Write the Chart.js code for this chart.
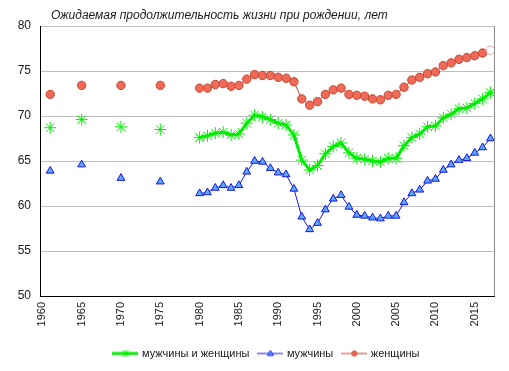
<!DOCTYPE html>
<html>
<head>
<meta charset="utf-8">
<script src="https://cdn.jsdelivr.net/npm/chart.js@4"></script>
<style>
  html, body { margin: 0; padding: 0; background: #fff; }
  #wrap { width: 509px; height: 371px; }
</style>
</head>
<body>
<div id="wrap"><canvas id="lifeChart" width="509" height="371"></canvas></div>
<script>
var titleText = 'Ожидаемая продолжительность жизни при рождении, лет';
var seriesNames = ['мужчины и женщины', 'мужчины', 'женщины'];

var years = [1961, 1965, 1970, 1975,
  1980, 1981, 1982, 1983, 1984, 1985, 1986, 1987, 1988, 1989,
  1990, 1991, 1992, 1993, 1994, 1995, 1996, 1997, 1998, 1999,
  2000, 2001, 2002, 2003, 2004, 2005, 2006, 2007, 2008, 2009,
  2010, 2011, 2012, 2013, 2014, 2015, 2016, 2017];

var total = [68.7, 69.6, 68.8, 68.5,
  67.6, 67.8, 68.1, 68.2, 67.9, 68.0, 69.2, 70.1, 69.9, 69.6,
  69.2, 69.0, 67.9, 65.1, 64.0, 64.5, 65.8, 66.6, 67.0, 65.9,
  65.3, 65.2, 65.0, 64.9, 65.3, 65.3, 66.7, 67.6, 68.0, 68.8,
  68.9, 69.8, 70.2, 70.8, 70.9, 71.4, 71.9, 72.6];

var men = [63.9, 64.6, 63.1, 62.7,
  61.4, 61.5, 62.0, 62.3, 62.0, 62.3, 63.8, 65.0, 64.9, 64.2,
  63.7, 63.5, 61.9, 58.8, 57.4, 58.1, 59.6, 60.8, 61.2, 59.9,
  59.0, 58.9, 58.7, 58.6, 58.9, 58.9, 60.4, 61.4, 61.8, 62.8,
  63.0, 64.0, 64.6, 65.1, 65.3, 65.9, 66.5, 67.5];

var women = [72.4, 73.4, 73.4, 73.4,
  73.1, 73.1, 73.5, 73.6, 73.3, 73.4, 74.1, 74.6, 74.5, 74.5,
  74.3, 74.2, 73.8, 71.9, 71.2, 71.6, 72.4, 72.9, 73.1, 72.4,
  72.3, 72.2, 71.9, 71.8, 72.3, 72.4, 73.2, 74.0, 74.3, 74.7,
  74.9, 75.6, 75.9, 76.3, 76.5, 76.7, 77.0, 77.3];

var xTicks = [1960, 1965, 1970, 1975, 1980, 1985, 1990, 1995, 2000, 2005, 2010, 2015];
var yTicks = [50, 55, 60, 65, 70, 75, 80];
var firstLinkedYear = 1980;

function points(vals) {
  return years.map(function (yr, i) { return { x: yr, y: vals[i] }; });
}

// no line between the isolated early years
function segColor(color) {
  return function (ctx) {
    return ctx.p0.parsed.x < firstLinkedYear ? 'rgba(0,0,0,0)' : color;
  };
}

// small legend pictures: line with marker in the middle
function legendIcon(lineColor, lineWidth, drawMarker) {
  var c = document.createElement('canvas');
  c.width = 26; c.height = 12;
  var g = c.getContext('2d');
  g.strokeStyle = lineColor;
  g.lineWidth = lineWidth;
  g.beginPath(); g.moveTo(0, 6); g.lineTo(26, 6); g.stroke();
  drawMarker(g, 13, 6);
  return c;
}

var iconTotal = legendIcon('#00ee00', 3, function (g, x, y) {
  g.strokeStyle = '#00ee00'; g.lineWidth = 1;
  g.beginPath();
  g.moveTo(x - 3, y - 3); g.lineTo(x + 3, y + 3);
  g.moveTo(x + 3, y - 3); g.lineTo(x - 3, y + 3);
  g.moveTo(x, y - 4); g.lineTo(x, y + 4);
  g.stroke();
});
var iconMen = legendIcon('#1515e0', 1, function (g, x, y) {
  g.fillStyle = '#5ca8ff'; g.strokeStyle = '#1515e0'; g.lineWidth = 1;
  g.beginPath(); g.moveTo(x, y - 3); g.lineTo(x + 3, y + 2); g.lineTo(x - 3, y + 2); g.closePath();
  g.fill(); g.stroke();
});
var iconWomen = legendIcon('#c8452a', 1, function (g, x, y) {
  g.fillStyle = '#f06a5a'; g.strokeStyle = '#c8452a'; g.lineWidth = 1;
  g.beginPath(); g.arc(x, y, 2.5, 0, Math.PI * 2); g.fill(); g.stroke();
});
var icons = [iconTotal, iconMen, iconWomen];

var womenBg = women.map(function (v, i) { return i === women.length - 1 ? '#ffffff' : '#f06a5a'; });
var womenBorder = women.map(function (v, i) { return i === women.length - 1 ? '#f4a3a3' : '#c8452a'; });

var frame = {
  id: 'frame',
  afterDraw: function (chart) {
    var a = chart.chartArea, ctx = chart.ctx;
    ctx.save();
    ctx.strokeStyle = '#8c8c8c';
    ctx.lineWidth = 1;
    ctx.beginPath();
    ctx.moveTo(Math.round(a.right) + 0.5, a.top);
    ctx.lineTo(Math.round(a.right) + 0.5, a.bottom);
    ctx.stroke();
    ctx.font = 'italic 12px "Liberation Sans", Arial, sans-serif';
    ctx.fillStyle = '#1a1a1a';
    ctx.textBaseline = 'alphabetic';
    ctx.fillText(titleText, a.left + 11, 19);
    ctx.restore();
  }
};

new Chart(document.getElementById('lifeChart'), {
  type: 'line',
  data: {
    datasets: [{
      label: seriesNames[0],
      data: points(total),
      borderColor: '#00ee00',
      borderWidth: 3,
      pointStyle: 'star',
      pointRadius: 6,
      pointBorderWidth: 1,
      pointBorderColor: '#00ee00',
      pointBackgroundColor: '#00ee00',
      segment: { borderColor: segColor('#00ee00') },
      order: 3
    }, {
      label: seriesNames[1],
      data: points(men),
      borderColor: '#1515e0',
      borderWidth: 1,
      pointStyle: 'triangle',
      pointRadius: 4.5,
      pointBorderWidth: 1,
      pointBorderColor: '#1515e0',
      pointBackgroundColor: '#5ca8ff',
      segment: { borderColor: segColor('#1515e0') },
      order: 2
    }, {
      label: seriesNames[2],
      data: points(women),
      borderColor: '#c8452a',
      borderWidth: 1,
      pointStyle: 'circle',
      pointRadius: 4.2,
      pointBorderWidth: 1,
      pointBorderColor: womenBorder,
      pointBackgroundColor: womenBg,
      segment: { borderColor: segColor('#c8452a') },
      order: 1
    }]
  },
  options: {
    responsive: false,
    animation: false,
    layout: { padding: { top: 26, right: 15, left: 0, bottom: 2 } },
    scales: {
      x: {
        type: 'linear',
        min: 1959.7,
        max: 2017.45,
        afterFit: function (s) { s.height = 42; },
        afterBuildTicks: function (s) {
          s.ticks = xTicks.map(function (v) { return { value: v }; });
        },
        ticks: {
          minRotation: 90,
          maxRotation: 90,
          padding: 6,
          color: '#1a1a1a',
          font: { family: '"Liberation Sans", Arial, sans-serif', size: 11 },
          callback: function (v) { return String(Math.round(v)); }
        },
        grid: { display: false, drawTicks: false },
        border: { color: '#000', width: 1 }
      },
      y: {
        min: 50,
        max: 80,
        afterFit: function (s) { s.width = 40; },
        afterBuildTicks: function (s) {
          s.ticks = yTicks.map(function (v) { return { value: v }; });
        },
        ticks: {
          padding: 9,
          color: '#1a1a1a',
          font: { family: '"Liberation Sans", Arial, sans-serif', size: 12 }
        },
        grid: { color: '#c0c0c0', drawTicks: false },
        border: { color: '#000', width: 1 }
      }
    },
    plugins: {
      title: { display: false },
      tooltip: { enabled: false },
      legend: {
        position: 'bottom',
        fullSize: false,
        labels: {
          usePointStyle: true,
          pointStyleWidth: 22,
          padding: 10,
          color: '#1a1a1a',
          font: { family: '"Liberation Sans", Arial, sans-serif', size: 11 },
          generateLabels: function (chart) {
            return chart.data.datasets.map(function (ds, i) {
              return {
                text: ds.label,
                pointStyle: icons[i],
                fillStyle: 'transparent',
                strokeStyle: 'transparent',
                lineWidth: 0,
                hidden: false,
                datasetIndex: i,
                fontColor: '#1a1a1a'
              };
            });
          }
        }
      }
    }
  },
  plugins: [frame]
});
</script>
</body>
</html>
